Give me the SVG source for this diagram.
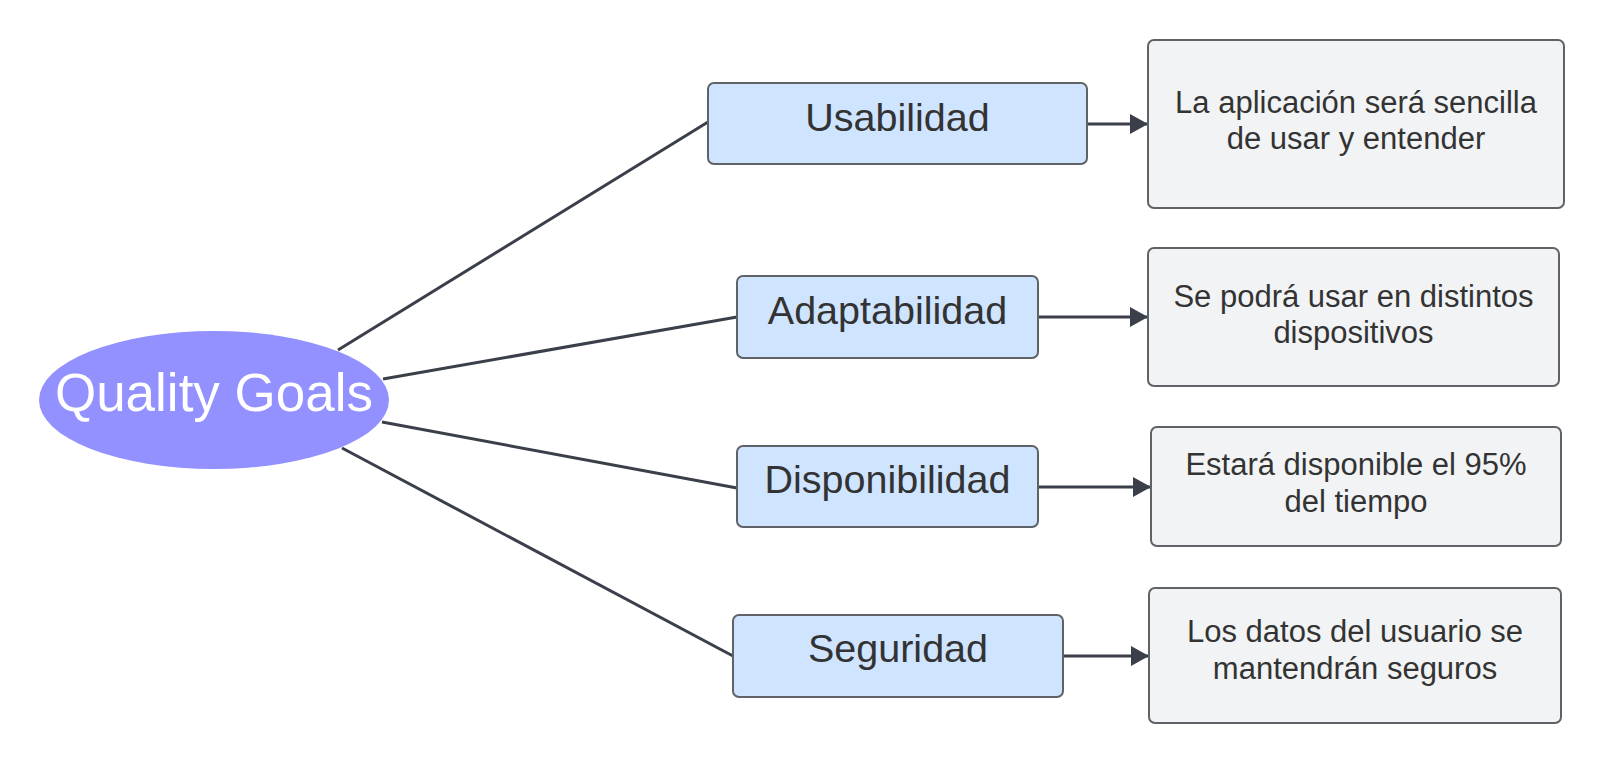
<svg xmlns="http://www.w3.org/2000/svg" width="1604" height="764" viewBox="0 0 1604 764">
<style>
.goal{fill:#cfe4ff;stroke:#5f6267;stroke-width:2}
.desc{fill:#f2f3f5;stroke:#5f6267;stroke-width:2}
.gt{font-family:"Liberation Sans",Arial,sans-serif;font-size:39.5px;fill:#333333;text-anchor:middle}
.dt{font-family:"Liberation Sans",Arial,sans-serif;font-size:31px;fill:#333333;text-anchor:middle}
.ln{stroke:#3a3f4a;stroke-width:3;fill:none}
</style>
<defs>
<marker id="ah" markerWidth="18" markerHeight="20" refX="18" refY="10" orient="auto" markerUnits="userSpaceOnUse">
<path d="M0,0 L18,10 L0,20 Z" fill="#3a3f4a"/>
</marker>
</defs>
<rect width="1604" height="764" fill="#ffffff"/>
<g id="connectors">
<line class="ln" x1="338" y1="350" x2="708" y2="122"/>
<line class="ln" x1="383" y1="379" x2="737" y2="317"/>
<line class="ln" x1="382" y1="422" x2="737" y2="488"/>
<line class="ln" x1="342" y1="448" x2="733" y2="656"/>
<line class="ln" x1="1088" y1="124" x2="1148" y2="124" marker-end="url(#ah)"/>
<line class="ln" x1="1039" y1="317" x2="1148" y2="317" marker-end="url(#ah)"/>
<line class="ln" x1="1039" y1="487" x2="1151" y2="487" marker-end="url(#ah)"/>
<line class="ln" x1="1064" y1="656" x2="1149" y2="656" marker-end="url(#ah)"/>
</g>
<g id="quality-goals">
<ellipse cx="214" cy="400" rx="175" ry="69" fill="#9391ff"/>
<text x="214" y="411" font-family="Liberation Sans,Arial,sans-serif" font-size="53" fill="#ffffff" text-anchor="middle">Quality Goals</text>
</g>
<g id="usabilidad">
<rect class="goal" x="708" y="83" width="379" height="81" rx="6"/>
<text class="gt" x="897.5" y="131">Usabilidad</text>
</g>
<g id="adaptabilidad">
<rect class="goal" x="737" y="276" width="301" height="82" rx="6"/>
<text class="gt" x="887.5" y="324">Adaptabilidad</text>
</g>
<g id="disponibilidad">
<rect class="goal" x="737" y="446" width="301" height="81" rx="6"/>
<text class="gt" x="887.5" y="493">Disponibilidad</text>
</g>
<g id="seguridad">
<rect class="goal" x="733" y="615" width="330" height="82" rx="6"/>
<text class="gt" x="898" y="662">Seguridad</text>
</g>
<g id="desc-usabilidad">
<rect class="desc" x="1148" y="40" width="416" height="168" rx="6"/>
<text class="dt" x="1356" y="113">La aplicación será sencilla</text>
<text class="dt" x="1356" y="149">de usar y entender</text>
</g>
<g id="desc-adaptabilidad">
<rect class="desc" x="1148" y="248" width="411" height="138" rx="6"/>
<text class="dt" x="1353.5" y="307">Se podrá usar en distintos</text>
<text class="dt" x="1353.5" y="343">dispositivos</text>
</g>
<g id="desc-disponibilidad">
<rect class="desc" x="1151" y="427" width="410" height="119" rx="6"/>
<text class="dt" x="1356" y="475">Estará disponible el 95%</text>
<text class="dt" x="1356" y="512">del tiempo</text>
</g>
<g id="desc-seguridad">
<rect class="desc" x="1149" y="588" width="412" height="135" rx="6"/>
<text class="dt" x="1355" y="642">Los datos del usuario se</text>
<text class="dt" x="1355" y="679">mantendrán seguros</text>
</g>
</svg>
